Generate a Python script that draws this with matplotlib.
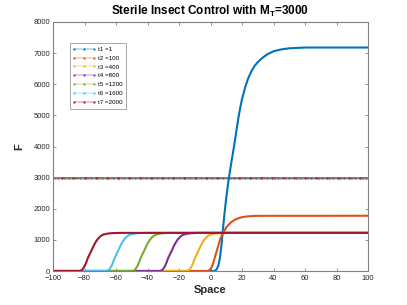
import numpy as np
import matplotlib
matplotlib.use('Agg')
import matplotlib.pyplot as plt

plt.rcParams['font.family'] = ['Liberation Sans', 'DejaVu Sans']

# legend labels / times
labels = ['t1 =1', 't2 =100', 't3 =400', 't4 =800', 't5 =1200', 't6 =1600', 't7 =2000']
colors = ['#0072BD', '#D95319', '#EDB120', '#7E2F8E', '#77AC30', '#4DBEEE', '#A2142F']

MT = 3000
x_space = np.arange(-100, 101, 1)

# F profiles (x, F)
x_t1 = [-100, 2, 3, 4, 5, 6, 7, 8, 9, 10, 11, 12, 13, 14, 15, 16, 17, 18, 19, 20,
        22, 24, 26, 28, 30, 33, 36, 40, 45, 50, 60, 100]
F_t1 = [0, 0, 10, 60, 180, 420, 850, 1400, 1900, 2350, 2750, 3100, 3410, 3720, 4030, 4350,
        4690, 5000, 5280, 5520, 5900, 6200, 6420, 6590, 6710, 6850, 6960, 7060, 7120, 7155, 7180, 7180]

x_t2 = [-100, -2, -1, 0, 1, 2, 3, 4, 5, 6, 7, 8, 9, 10, 11, 12, 13, 14, 16, 18, 20, 23, 26, 30, 100]
F_t2 = [0, 0, 20, 60, 150, 300, 480, 650, 820, 1000, 1120, 1220, 1310, 1400, 1460, 1510, 1560,
        1600, 1660, 1700, 1730, 1752, 1765, 1772, 1775]

x_t3 = [-100, -15, -14, -13, -12, -11, -10, -9, -8, -7, -6, -5, -4, -3, -2, -1, 0, 2, 4, 6, 9, 12, 100]
F_t3 = [0, 0, 20, 70, 150, 260, 400, 510, 612, 720, 830, 920, 1000, 1060, 1110, 1145, 1170,
        1195, 1210, 1218, 1223, 1225, 1225]

x_t4 = [-100, -32, -31, -30, -29, -28, -27, -26, -25, -24, -23, -22, -21, -20, -19, -18, -17,
        -15, -13, -11, -8, -5, 100]
F_t4 = [0, 0, 20, 70, 150, 260, 400, 510, 612, 720, 830, 920, 1000, 1060, 1110, 1145, 1170,
        1195, 1210, 1218, 1223, 1225, 1225]

x_t5 = [-100, -49.5, -48.5, -47.5, -46.5, -45.5, -44.5, -43.5, -42.5, -41.5, -40.5, -39.5,
        -38.5, -37.5, -36.5, -35.5, -34.5, -32.5, -30.5, -28.5, -25.5, -22.5, 100]
F_t5 = [0, 0, 20, 70, 150, 260, 400, 510, 612, 720, 830, 920, 1000, 1060, 1110, 1145, 1170,
        1195, 1210, 1218, 1223, 1225, 1225]

x_t6 = [-100, -66, -65, -64, -63, -62, -61, -60, -59, -58, -57, -56, -55, -54, -53, -52, -51,
        -49, -47, -45, -42, -39, 100]
F_t6 = [0, 0, 20, 70, 150, 260, 400, 510, 612, 720, 830, 920, 1000, 1060, 1110, 1145, 1170,
        1195, 1210, 1218, 1223, 1225, 1225]

x_t7 = [-100, -83, -82, -81, -80, -79, -78, -77, -76, -75, -74, -73, -72, -71, -70, -69, -68,
        -66, -64, -62, -59, -56, 100]
F_t7 = [0, 0, 20, 70, 150, 260, 400, 510, 612, 720, 830, 920, 1000, 1060, 1110, 1145, 1170,
        1195, 1210, 1218, 1223, 1225, 1225]

xs = [x_t1, x_t2, x_t3, x_t4, x_t5, x_t6, x_t7]
Fs = [F_t1, F_t2, F_t3, F_t4, F_t5, F_t6, F_t7]

fig = plt.figure(figsize=(4.07, 3.05), dpi=100)
ax = fig.add_axes([53/407, 34/305, 315/407, 249/305])

handles = []
for i, (c, lab) in enumerate(zip(colors, labels)):
    h, = ax.plot(x_space, [MT] * len(x_space), '.-', color=c, lw=0.35, ms=1.2,
                 markevery=(i, 7), label=lab)
    handles.append(h)
for x, F, c in zip(xs, Fs, colors):
    ax.plot(x, F, '-', color=c, lw=1.5, solid_joinstyle='round')

ax.set_xlim(-100, 100)
ax.set_ylim(0, 8000)
ax.set_xticks(np.arange(-100, 101, 20))
ax.set_yticks(np.arange(0, 8001, 1000))
ax.tick_params(direction='in', length=2.5, width=0.6, labelsize=5.5, colors='#808080',
               labelcolor='#262626', top=True, right=True, pad=2)
ax.tick_params(axis='x', pad=3)
for s in ax.spines.values():
    s.set_color('#808080')
    s.set_linewidth(0.8)

ax.set_xlabel('Space', fontsize=8, fontweight='bold', color='#262626', labelpad=2)
ax.set_ylabel('F', fontsize=8, fontweight='bold', color='#262626', rotation=90, labelpad=7)
ax.set_title(r'Sterile Insect Control with M$_\mathregular{T}$=3000', fontsize=8.5,
             fontweight='bold', color='black', pad=5)

leg = ax.legend(handles=handles, loc='upper left', bbox_to_anchor=(0.054, 0.916),
                borderaxespad=0, fontsize=4.5, handlelength=3.2, labelspacing=0.55,
                frameon=True, fancybox=False, edgecolor='#808080', borderpad=0.6,
                handletextpad=0.6, markerscale=1.0)
leg.get_frame().set_linewidth(0.6)
for lh in leg.legend_handles:
    lh.set_markevery(None)

fig.savefig('out.png', dpi=100)
